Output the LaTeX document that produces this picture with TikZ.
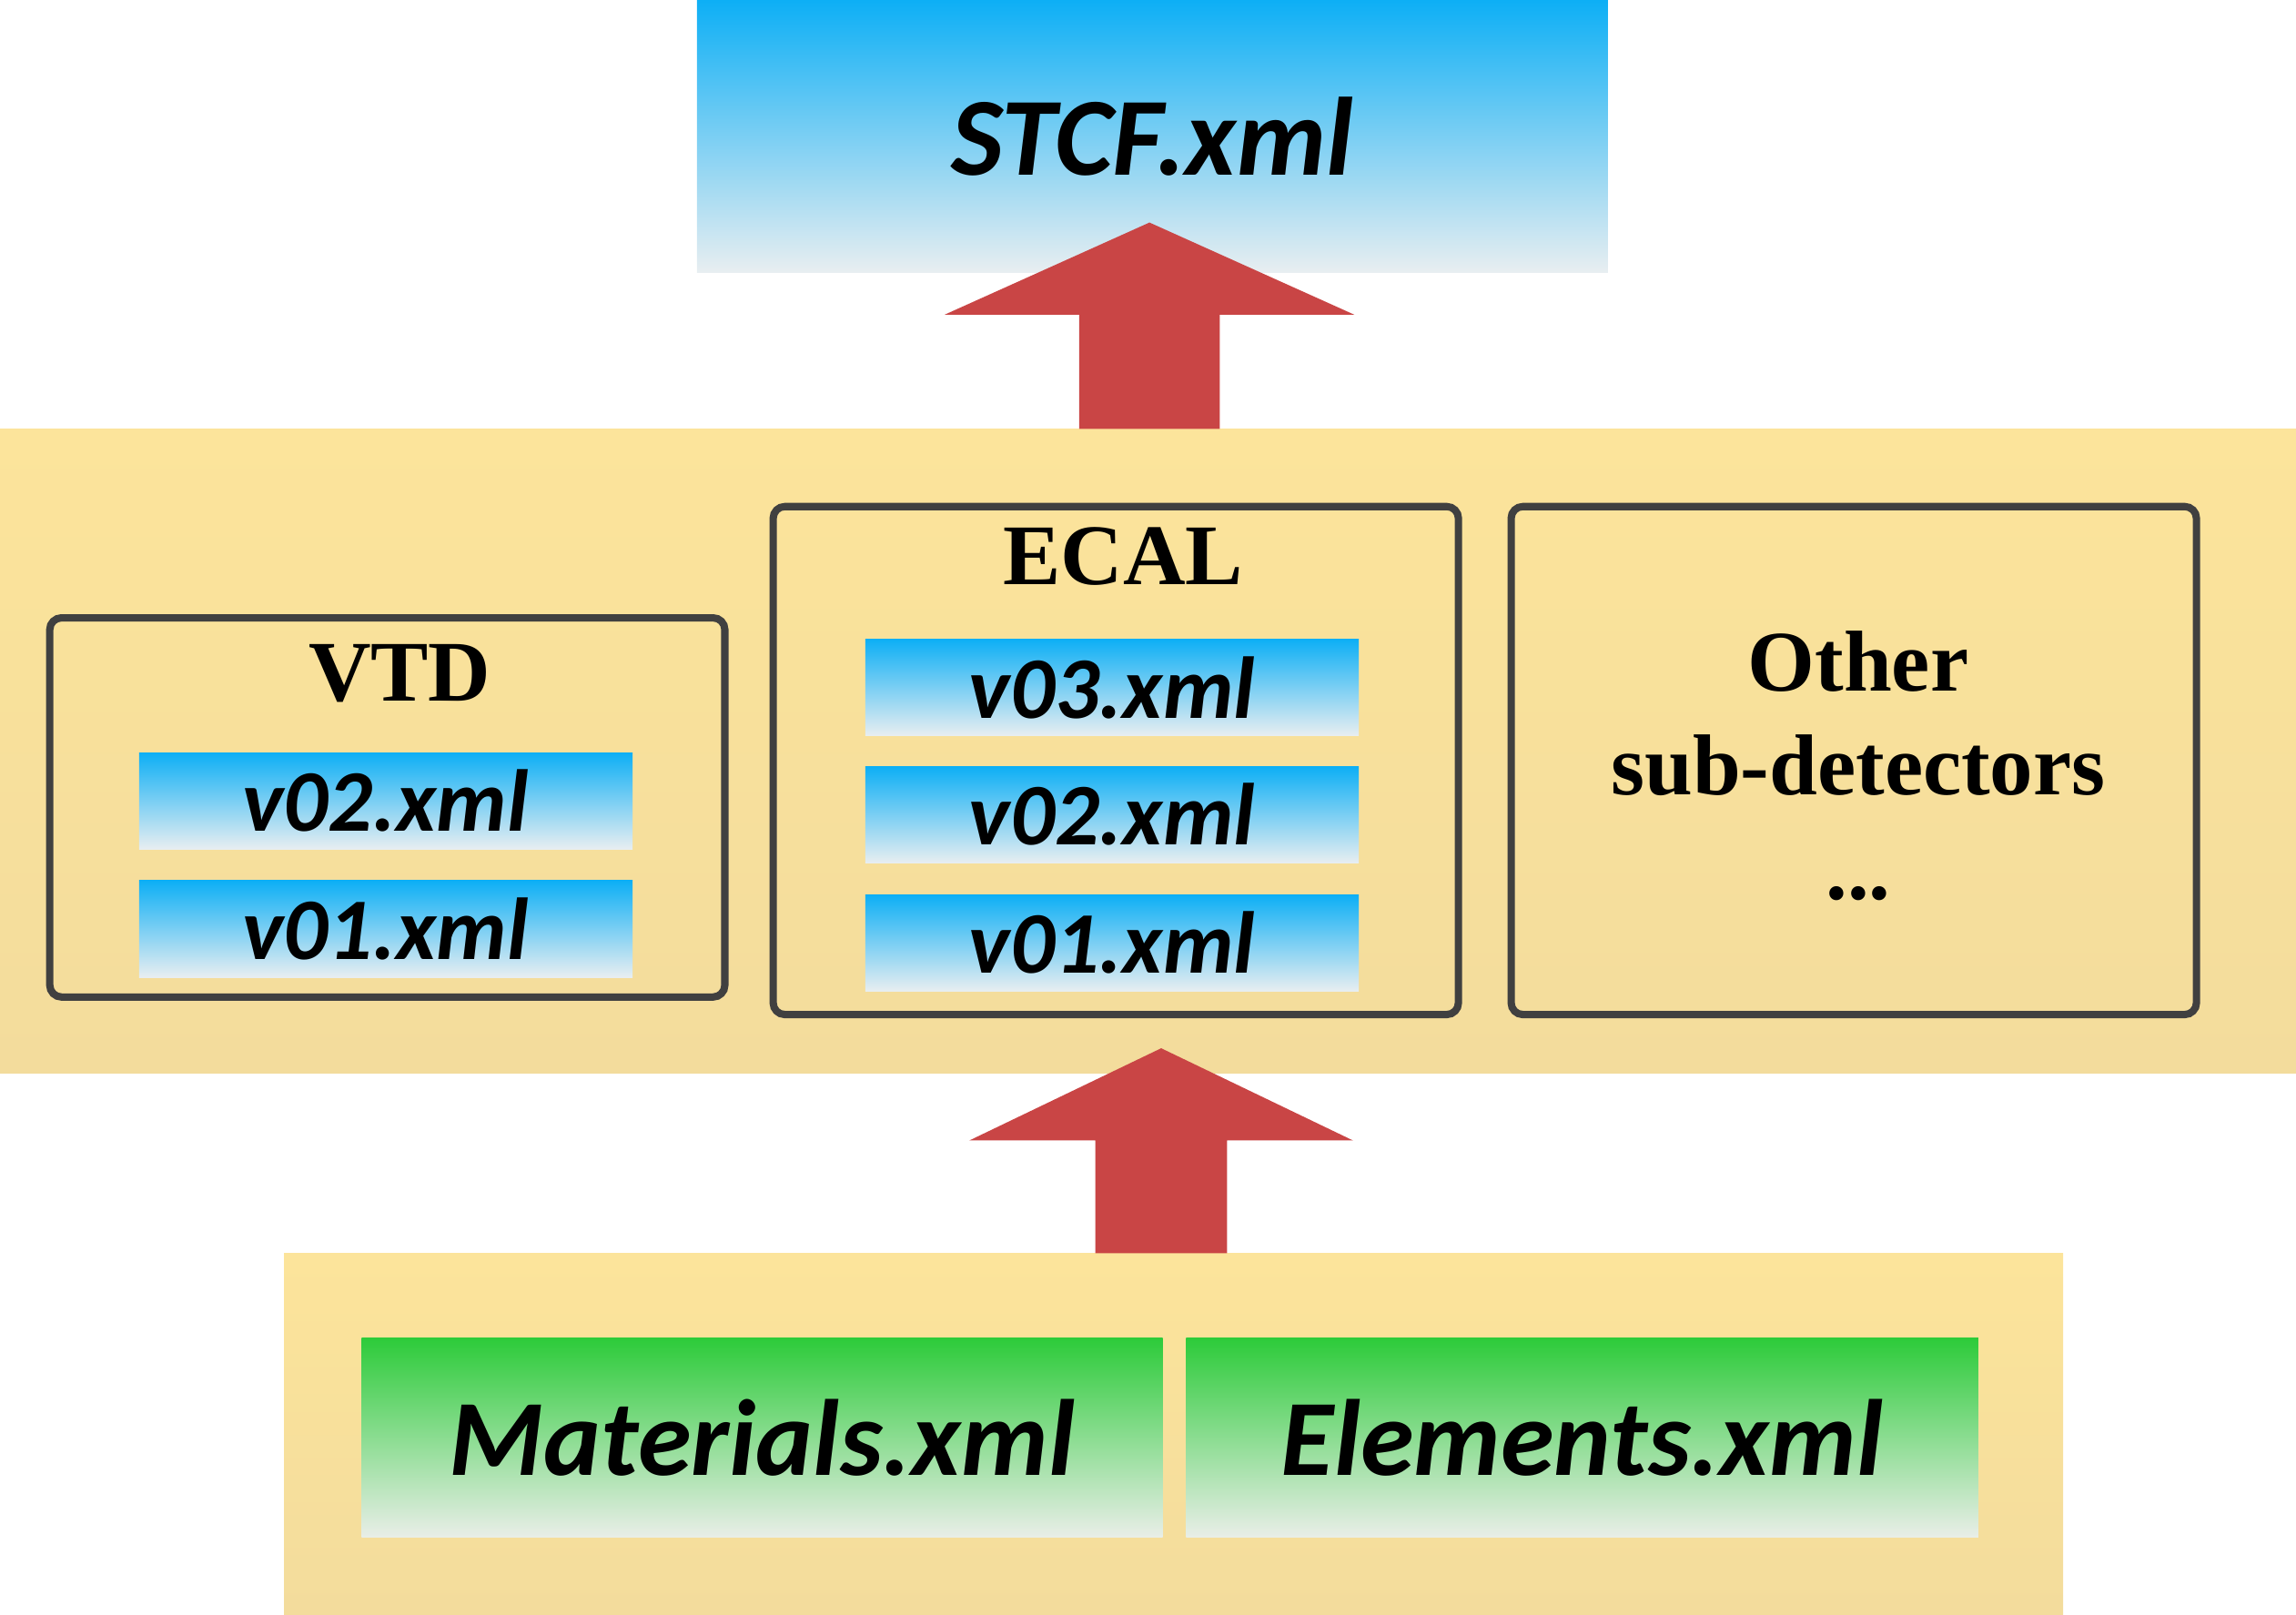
\documentclass[tikz,border=0pt]{standalone}
\usepackage{fontspec}
\setmainfont{Liberation Serif}
\setsansfont{Carlito}
\definecolor{skyblue}{HTML}{0DAFF5}
\definecolor{paleblue}{HTML}{E8EEF1}
\definecolor{leafgreen}{HTML}{2DCB3A}
\definecolor{palegreen}{HTML}{E9EEE8}
\definecolor{bandtop}{HTML}{FCE49B}
\definecolor{bandbot}{HTML}{F3DC9C}
\definecolor{arrowred}{HTML}{C94545}
\definecolor{framegray}{HTML}{404040}
\tikzset{
  band/.style={rectangle,inner sep=0pt,top color=bandtop,bottom color=bandbot},
  xmlbox/.style={rectangle,inner sep=0pt,minimum width=168.5pt,minimum height=33pt,
    top color=skyblue,bottom color=paleblue,
    font=\sffamily\bfseries\itshape\fontsize{30}{36}\selectfont},
  basebox/.style={rectangle,inner sep=0pt,minimum height=68pt,
    top color=leafgreen,bottom color=palegreen,
    font=\sffamily\bfseries\itshape\fontsize{37}{44}\selectfont},
  detframe/.style={rectangle,draw=framegray,line width=2.5pt,rounded corners=4pt,inner sep=0pt},
  detlabel/.style={font=\bfseries\fontsize{29.5}{35.5}\selectfont,align=center},
  bigarrow/.style={fill=arrowred}
}
\begin{document}
\begin{tikzpicture}[x=0.5pt,y=-0.5pt]
\useasboundingbox (0,0) rectangle (1568,1103);
% top file
\node[rectangle,inner sep=0pt,minimum width=311pt,minimum height=93pt,
  top color=skyblue,bottom color=paleblue,
  font=\sffamily\bfseries\itshape\fontsize{38}{45}\selectfont] (stcf) at (787,93) {STCF.xml};
% sub-detector band
\node[band,minimum width=784pt,minimum height=220pt] (subdet) at (784,513) {};
\node[detframe,minimum width=230.5pt,minimum height=129.5pt] (vtd) at (264.5,551.5) {};
\node[detlabel] (vtdname) at (273,460) {VTD};
\node[xmlbox] (vtdtwo) at (263.5,547) {v02.xml};
\node[xmlbox] (vtdone) at (263.5,634.5) {v01.xml};
\node[detframe,minimum width=234pt,minimum height=173.5pt] (ecal) at (762,519.5) {};
\node[detlabel] (ecalname) at (767,380) {ECAL};
\node[xmlbox] (ecalthree) at (759.5,469.5) {v03.xml};
\node[xmlbox] (ecaltwo) at (759.5,556.5) {v02.xml};
\node[xmlbox] (ecalone) at (759.5,644) {v01.xml};
\node[detframe,minimum width=234pt,minimum height=173.5pt] (other) at (1266,519.5) {};
\node[detlabel] (othername) at (1269,523) {Other\\sub-detectors\\...};
% common material band
\node[band,minimum width=607.5pt,minimum height=123.5pt] (common) at (801.5,979.5) {};
\node[basebox,minimum width=273.5pt] (mat) at (520.5,982) {Materials.xml};
\node[basebox,minimum width=270.5pt] (elem) at (1080.5,982) {Elements.xml};
% block arrows
\coordinate (upbase) at (785,293);
\coordinate (uptip) at (785,152);
\fill[bigarrow] (upbase) ++(-48,0) -- ++(0,-78) -- ++(-92,0) -- (uptip) -- ++(140,63) -- ++(-92,0) -- ++(0,78) -- cycle;
\coordinate (lowbase) at (793,856);
\coordinate (lowtip) at (793,716);
\fill[bigarrow] (lowbase) ++(-45,0) -- ++(0,-77) -- ++(-86,0) -- (lowtip) -- ++(131,63) -- ++(-86,0) -- ++(0,77) -- cycle;
\end{tikzpicture}
\end{document}
